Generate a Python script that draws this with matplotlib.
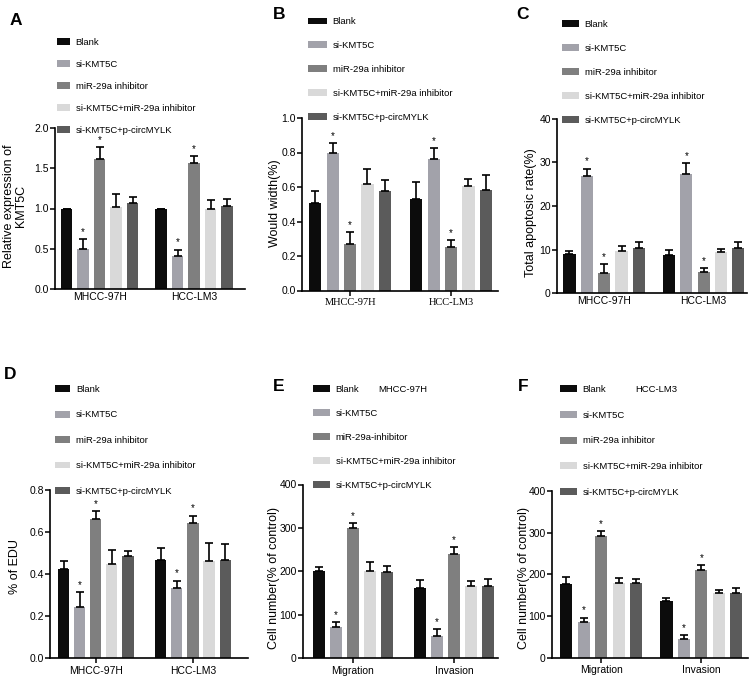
import numpy as np
import matplotlib
matplotlib.use("Agg")
import matplotlib.pyplot as plt
from matplotlib.ticker import MultipleLocator, FormatStrFormatter

plt.rcParams['font.family'] = ['Liberation Sans', 'DejaVu Sans']

# Data
cell_lines = ["MHCC-97H", "HCC-LM3"]
assays = ["Migration", "Invasion"]
treatments = ["Blank", "si-KMT5C", "miR-29a inhibitor",
              "si-KMT5C+miR-29a inhibitor", "si-KMT5C+p-circMYLK"]
treatments_e = ["Blank", "si-KMT5C", "miR-29a-inhibitor",
                "si-KMT5C+miR-29a inhibitor", "si-KMT5C+p-circMYLK"]

# rows = treatments, columns = groups
kmt5c_mean = [[1.0, 1.0], [0.50, 0.41], [1.61, 1.56], [1.02, 0.99], [1.07, 1.03]]
kmt5c_err = [[0, 0], [0.12, 0.08], [0.15, 0.09], [0.16, 0.11], [0.07, 0.09]]

wound_mean = [[0.51, 0.53], [0.80, 0.76], [0.27, 0.255], [0.617, 0.607], [0.578, 0.584]]
wound_err = [[0.064, 0.097], [0.056, 0.064], [0.068, 0.039], [0.087, 0.039], [0.064, 0.083]]

apop_mean = [[9.0, 8.7], [27.0, 27.4], [4.7, 4.9], [9.7, 9.4], [10.3, 10.3]]
apop_err = [[0.6, 1.1], [1.6, 2.5], [1.9, 0.9], [1.0, 0.8], [1.5, 1.4]]

edu_mean = [[0.425, 0.469], [0.244, 0.331], [0.662, 0.645], [0.447, 0.461], [0.488, 0.468]]
edu_err = [[0.038, 0.055], [0.071, 0.038], [0.038, 0.033], [0.068, 0.086], [0.022, 0.074]]

mhcc_cells_mean = [[201, 162], [71, 50], [300, 240], [200, 165], [198, 165]]
mhcc_cells_err = [[9, 17], [11, 17], [11, 16], [21, 12], [15, 18]]

lm3_cells_mean = [[177, 135], [86, 44], [292, 211], [179, 155], [179, 154]]
lm3_cells_err = [[17, 8], [10, 9], [12, 12], [12, 8], [9, 12]]

starred = [1, 2]  # si-KMT5C and miR-29a inhibitor get "*"

colors = ["#0c0c0c", "#a2a2aa", "#7f7f7f", "#d9d9d9", "#5b5b5b"]

W, H = 753, 680
fig = plt.figure(figsize=(W / 100, H / 100), dpi=100)


def px_axes(l, t, r, b):
    return fig.add_axes([l / W, 1 - b / H, (r - l) / W, (b - t) / H])


def panel(box, letter, letter_xy, means, errs, groups, names, ymax, ystep, fmt,
          ylabel, ylabel_xy, leg_xy, leg_space, handle_len, gap, xlim,
          xticks=True, serif_x=False, note=None):
    ax = px_axes(*box)
    l, t, r, b = box
    pos = np.array([0, gap])
    for i, name in enumerate(names):
        m = np.array(means[i], dtype=float)
        e = np.array(errs[i], dtype=float)
        x = pos + (i - 2)
        ax.bar(x, m, width=0.7, color=colors[i], label=name,
               yerr=[np.zeros_like(e), e], capsize=2.6,
               error_kw=dict(elinewidth=1.2, capthick=1.2, ecolor="black"))
        if i in starred:
            for xi, top in zip(x, m + e):
                ax.annotate("*", xy=(xi, top), xytext=(0, 1.5),
                            textcoords="offset points", ha="center",
                            va="bottom", fontsize=7)
    ax.set_xlim(*xlim)
    ax.set_ylim(0, ymax)
    ax.yaxis.set_major_locator(MultipleLocator(ystep))
    ax.yaxis.set_major_formatter(FormatStrFormatter(fmt))
    ax.set_xticks(pos)
    if serif_x:
        ax.set_xticklabels(groups, fontsize=7.5, family="Liberation Serif")
    else:
        ax.set_xticklabels(groups, fontsize=7.5)
    ax.tick_params(axis="y", labelsize=7.5, length=3.5, width=1.1, pad=1)
    ax.tick_params(axis="x", length=3.5 if xticks else 0, width=1.1, pad=2)
    for s in ["top", "right"]:
        ax.spines[s].set_visible(False)
    for s in ["left", "bottom"]:
        ax.spines[s].set_linewidth(1.2)
    ax.set_ylabel(ylabel, fontsize=9, va="center", linespacing=1.1)
    ax.yaxis.set_label_coords((ylabel_xy[0] - l) / (r - l),
                              (b - ylabel_xy[1]) / (b - t))
    ax.legend(loc="upper left", bbox_to_anchor=(leg_xy[0] / W, 1 - leg_xy[1] / H),
              bbox_transform=fig.transFigure, frameon=False, fontsize=6.8,
              handlelength=handle_len, handleheight=0.75, handletextpad=0.6,
              labelspacing=leg_space, borderpad=0, borderaxespad=0)
    fig.text(letter_xy[0] / W, 1 - letter_xy[1] / H, letter, fontsize=12.5,
             fontweight="bold", va="top", ha="left")
    if note is not None:
        fig.text(note[1] / W, 1 - note[2] / H, note[0], fontsize=6.8, va="center")
    return ax


panel((55, 128, 245, 289), "A", (10, 13), kmt5c_mean, kmt5c_err, cell_lines,
      treatments, 2.0, 0.5, "%.1f", "Relative expression of\nKMT5C", (15, 206),
      (57, 37.6), 1.38, 1.38, 5.72, (-2.7, 8.8), xticks=False)

panel((302, 118, 498, 290.5), "B", (273, 7), wound_mean, wound_err, cell_lines,
      treatments, 1.0, 0.2, "%.1f", "Would width(%)", (275, 203),
      (308, 17.3), 1.57, 2.0, 5.8, (-2.76, 8.5), serif_x=True)

panel((557, 119, 747, 293), "C", (516, 7), apop_mean, apop_err, cell_lines,
      treatments, 40, 10, "%d", "Total apoptosic rate(%)", (531, 213),
      (562, 19.6), 1.60, 1.8, 5.73, (-2.72, 8.23), xticks=False)

panel((50, 490, 248, 658), "D", (4, 367), edu_mean, edu_err, cell_lines,
      treatments, 0.8, 0.2, "%.1f", "% of EDU", (15, 567),
      (55, 385), 1.74, 1.6, 6.04, (-2.84, 9.46))

panel((303, 484.5, 498, 658), "E", (273, 379), mhcc_cells_mean, mhcc_cells_err,
      assays, treatments_e, 400, 100, "%d", "Cell number(% of control)",
      (274, 578), (313, 385), 1.59, 1.8, 5.94, (-2.91, 8.5),
      note=("MHCC-97H", 378, 389))

panel((552, 491, 748, 657.5), "F", (518, 379), lm3_cells_mean, lm3_cells_err,
      assays, treatments, 400, 100, "%d", "Cell number(% of control)",
      (524, 578), (560, 385), 1.77, 1.8, 5.73, (-2.82, 8.4),
      note=("HCC-LM3", 635, 389))

fig.savefig("out.png", dpi=100, facecolor="white")
